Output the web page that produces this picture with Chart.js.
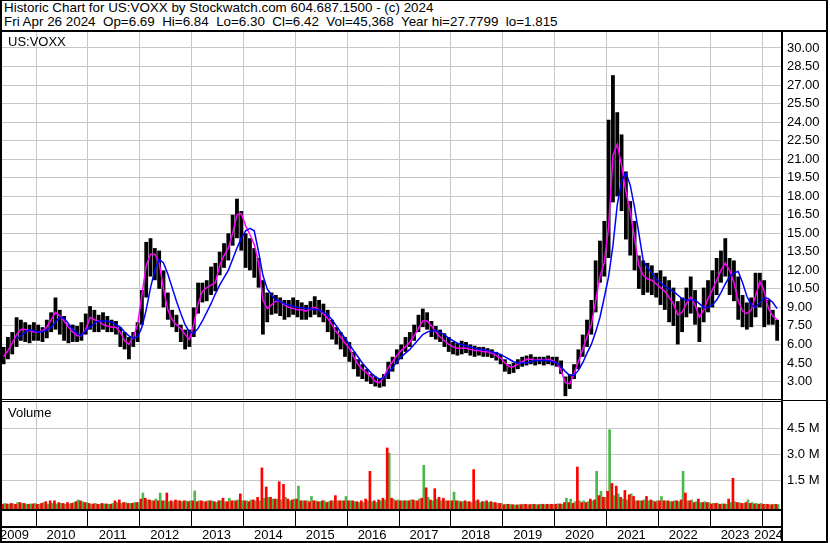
<!DOCTYPE html>
<html>
<head>
<meta charset="utf-8">
<title>US:VOXX historic chart</title>
<script src="https://cdn.jsdelivr.net/npm/chart.js@4.4.1/dist/chart.umd.min.js"></script>
<style>
  body { margin: 0; background: #fff; }
  #wrap { position: relative; width: 830px; height: 543px; overflow: hidden;
          font-family: "Liberation Sans", Arial, sans-serif; font-size: 13px; color: #000; }
  canvas { position: absolute; }
  .ln { position: absolute; background: #000; z-index: 5; }
  #head { position: absolute; left: 4px; top: 1px; line-height: 14px; white-space: pre; font-size: 13.4px; }
  .tag { position: absolute; left: 8px; line-height: 14px; z-index: 6; }
</style>
</head>
<body>
<div id="wrap">
  <div id="head">Historic Chart for US:VOXX by Stockwatch.com 604.687.1500 - (c) 2024
Fri Apr 26 2024  Op=6.69  Hi=6.84  Lo=6.30  Cl=6.42  Vol=45,368  Year hi=27.7799  lo=1.815</div>
  <canvas id="priceChart" width="826" height="367" style="left:2px;top:32px"></canvas>
  <canvas id="volChart" width="826" height="140" style="left:2px;top:402px"></canvas>
  <div class="tag" style="top:35px">US:VOXX</div>
  <div class="tag" style="top:406px">Volume</div>

  <div class="ln" style="left:0;top:0;width:828px;height:1px"></div>
  <div class="ln" style="left:0;top:0;width:2px;height:543px"></div>
  <div class="ln" style="left:826px;top:0;width:2px;height:543px"></div>
  <div class="ln" style="left:0;top:541px;width:828px;height:2px"></div>
  <div class="ln" style="left:0;top:30px;width:828px;height:2px"></div>
  <div class="ln" style="left:781px;top:32px;width:2px;height:510px"></div>
  <div class="ln" style="left:0;top:399px;width:781px;height:1px"></div>
  <div class="ln" style="left:0;top:401px;width:781px;height:1px"></div>
  <div class="ln" style="left:781px;top:400px;width:46px;height:1px"></div>
  <div class="ln" style="left:0;top:509px;width:781px;height:2px"></div>
  <div class="ln" style="left:0;top:526px;width:781px;height:2px"></div>
</div>

<script>
// monthly values, May 2009 .. Apr 2024 (one row per year)
const firstMonth = 2009 + 4 / 12;

const priceHigh = [
  5.8, 6.6, 7.0, 8.2, 8.0, 7.8, 7.6, 7.8,
  7.6, 7.4, 8.0, 8.6, 9.8, 8.8, 8.3, 7.6, 7.6, 7.5, 7.8, 8.5,
  9.1, 8.8, 8.4, 8.6, 8.3, 8.0, 7.9, 7.4, 7.0, 6.6, 7.0, 7.8,
  10.4, 14.3, 14.6, 13.8, 13.6, 12.0, 10.2, 8.8, 8.4, 7.6, 7.2, 7.2,
  9.0, 11.0, 11.0, 11.2, 12.3, 12.6, 13.5, 14.2, 15.0, 16.5, 17.8, 16.8,
  15.0, 14.6, 13.8, 13.0, 11.2, 10.2, 10.2, 10.0, 9.8, 9.6, 9.6, 9.8,
  9.6, 9.4, 9.2, 9.5, 9.9, 9.6, 9.3, 8.8, 8.0, 7.4, 7.0, 6.6,
  6.2, 5.4, 4.8, 4.4, 4.0, 3.6, 3.4, 3.2, 3.6, 4.6, 5.0, 5.6,
  6.0, 6.6, 7.0, 7.6, 8.4, 8.9, 8.6, 7.9, 7.5, 7.2, 6.9, 6.6,
  6.2, 6.1, 6.3, 6.2, 6.0, 5.9, 5.8, 5.8, 5.7, 5.6, 5.4, 5.2,
  4.8, 4.4, 4.5, 4.8, 5.0, 5.1, 5.2, 5.0, 5.0, 5.0, 5.1, 5.0,
  5.0, 4.7, 3.4, 3.6, 4.4, 5.6, 6.8, 8.0, 9.6, 12.8, 14.4, 16.0,
  24.2, 27.8, 24.8, 23.0, 20.0, 17.6, 16.0, 13.2, 12.8, 12.6, 12.4, 11.8,
  12.0, 11.5, 11.2, 10.6, 9.5, 9.8, 10.6, 11.5, 10.4, 9.0, 10.6, 11.2,
  12.0, 13.0, 13.6, 14.6, 13.0, 12.8, 11.5, 10.0, 9.4, 9.8, 11.8, 11.8,
  11.2, 9.6, 8.8, 8.0
];

const priceLow = [
  4.4, 4.8, 5.2, 5.8, 6.3, 6.2, 6.1, 6.3,
  6.3, 6.2, 6.5, 7.0, 7.2, 6.8, 6.3, 6.1, 6.2, 6.2, 6.3, 6.8,
  7.2, 7.0, 7.0, 7.2, 7.0, 7.0, 6.8, 5.8, 5.6, 4.8, 5.8, 6.2,
  7.6, 9.8, 11.5, 11.2, 10.5, 9.0, 8.0, 7.4, 7.0, 6.2, 5.6, 5.8,
  6.6, 8.5, 9.4, 9.5, 10.0, 10.3, 11.6, 12.2, 12.8, 14.0, 14.6, 13.6,
  12.2, 12.0, 11.4, 10.6, 6.8, 7.8, 8.4, 8.5, 8.3, 8.0, 8.2, 8.4,
  8.2, 8.0, 8.0, 8.2, 8.4, 8.2, 7.8, 7.0, 6.4, 6.0, 5.6, 5.0,
  4.6, 4.0, 3.4, 3.2, 3.0, 2.8, 2.6, 2.5, 2.6, 3.2, 3.8, 4.4,
  4.8, 5.4, 5.8, 6.3, 7.0, 7.4, 7.2, 6.6, 6.4, 6.2, 5.8, 5.4,
  5.2, 5.1, 5.2, 5.3, 5.1, 5.0, 5.1, 5.0, 5.0, 4.9, 4.7, 4.4,
  3.8, 3.6, 3.7, 4.0, 4.2, 4.3, 4.4, 4.3, 4.4, 4.3, 4.4, 4.3,
  4.2, 3.6, 1.815, 2.4, 3.2, 4.0, 5.0, 5.8, 6.8, 8.6, 11.0, 11.5,
  13.0, 17.5, 18.0, 16.8, 14.5, 13.2, 12.0, 10.5, 10.0, 10.2, 10.0, 9.8,
  9.2, 8.8, 7.8, 7.5, 6.0, 7.0, 8.2, 8.5, 7.6, 6.2, 7.8, 8.6,
  9.0, 10.0, 11.0, 11.5, 10.0, 9.5, 8.0, 7.4, 7.2, 7.4, 8.2, 9.0,
  7.4, 7.6, 7.6, 6.3
];

// short moving average (magenta)
const maFast = [
  5.0, 5.5, 6.1, 6.8, 7.2, 7.2, 7.1, 7.0,
  7.0, 7.1, 7.4, 8.0, 8.6, 8.3, 7.9, 7.4, 7.0, 6.7, 6.7, 7.2,
  8.2, 8.0, 7.9, 7.6, 7.5, 7.4, 7.4, 7.0, 6.3, 6.0, 6.6, 7.6,
  10.0, 12.4, 13.3, 13.3, 12.6, 10.5, 8.8, 8.0, 7.6, 7.3, 6.8, 6.4,
  7.6, 9.3, 10.3, 10.6, 10.8, 11.0, 12.4, 13.2, 13.8, 15.0, 16.5, 16.6,
  15.6, 14.9, 14.1, 12.6, 9.6, 8.9, 9.2, 9.5, 9.5, 9.2, 9.0, 8.9,
  8.8, 8.8, 8.7, 8.9, 9.0, 8.8, 8.5, 8.1, 7.6, 7.0, 6.6, 6.1,
  5.7, 5.0, 4.4, 4.0, 3.7, 3.4, 3.0, 2.9, 3.4, 4.1, 4.6, 5.1,
  5.5, 5.8, 6.2, 6.7, 7.3, 7.9, 7.9, 7.5, 7.0, 6.6, 6.3, 6.0,
  5.8, 5.7, 5.7, 5.7, 5.6, 5.5, 5.5, 5.4, 5.4, 5.3, 5.1, 4.9,
  4.5, 4.2, 4.2, 4.4, 4.6, 4.8, 4.8, 4.7, 4.8, 4.7, 4.8, 4.7,
  4.5, 3.9, 2.9, 2.8, 3.6, 4.6, 5.6, 6.6, 7.6, 9.5, 11.5, 12.6,
  15.5, 21.3, 22.2, 20.5, 18.4, 16.8, 14.6, 12.4, 11.6, 11.3, 11.2, 10.9,
  10.6, 10.3, 9.8, 9.3, 8.4, 8.6, 9.3, 9.8, 9.2, 8.2, 8.8, 9.7,
  10.4, 11.2, 12.0, 12.6, 12.0, 11.0, 9.5, 8.7, 8.5, 8.8, 9.9, 11.1,
  10.3, 8.9, 8.3, 8.0
];

// long moving average (blue)
const maSlow = [
  null, null, null, 6.4, 6.7, 7.0, 7.2, 7.1,
  7.0, 7.0, 7.2, 7.4, 7.8, 8.2, 8.1, 7.7, 7.2, 6.9, 6.7, 7.1,
  7.4, 7.7, 7.9, 7.9, 7.9, 7.8, 7.6, 7.4, 7.0, 6.7, 6.5, 6.6,
  7.4, 8.8, 10.6, 12.0, 12.9, 12.6, 11.7, 10.6, 9.5, 8.5, 7.6, 7.0,
  6.9, 7.3, 7.9, 8.6, 9.3, 10.1, 10.8, 11.4, 12.0, 12.9, 13.8, 14.6,
  15.2, 15.4, 15.2, 13.5, 11.6, 10.5, 10.0, 9.6, 9.5, 9.3, 9.2, 9.1,
  9.0, 9.0, 8.9, 8.9, 8.8, 8.8, 8.6, 8.4, 8.0, 7.5, 7.0, 6.5,
  6.0, 5.5, 5.0, 4.5, 4.1, 3.7, 3.4, 3.2, 3.3, 3.7, 4.1, 4.6,
  5.0, 5.3, 5.6, 6.0, 6.4, 6.8, 7.0, 7.1, 7.1, 7.0, 6.8, 6.5,
  6.3, 6.1, 6.0, 5.9, 5.8, 5.7, 5.6, 5.6, 5.5, 5.4, 5.3, 5.2,
  5.0, 4.8, 4.6, 4.5, 4.5, 4.5, 4.6, 4.7, 4.7, 4.7, 4.7, 4.6,
  4.5, 4.2, 3.8, 3.5, 3.5, 3.9, 4.5, 5.3, 6.0, 7.0, 8.2, 9.8,
  11.5, 14.0, 17.3, 19.2, 19.9, 18.9, 17.1, 15.0, 12.8, 12.2, 11.8, 11.3,
  11.0, 10.7, 10.5, 10.3, 10.0, 9.7, 9.6, 9.6, 9.6, 9.3, 9.0, 9.0,
  9.2, 9.6, 10.2, 10.9, 11.5, 11.8, 11.9, 11.0, 9.9, 9.2, 9.0, 9.4,
  9.8, 9.7, 9.4, 8.9
];

// volume in millions: down (red) and up (green)
const volDown = [
  .1, .12, .15, .1, .2, .15, .1, .12,
  .1, .15, .25, .3, .3, .2, .15, .2, .15, .25, .3, .2,
  .15, .12, .1, .15, .12, .1, .3, .35, .2, .15, .15, .2,
  .4, .45, .35, .3, .3, .3, .75, .3, .35, .3, .3, .25,
  .3, .25, .3, .25, .3, .25, .3, .45, .25, .3, .3, .7,
  .3, .25, .35, .5, 2.2, 1.1, .5, .4, 1.4, 1.25, .4, .35,
  .4, .3, .3, .25, .3, .25, .3, .2, .3, .6, .3, .3,
  .3, .3, .25, .3, .4, 2.0, .3, .35, .45, 3.35, .45, .3,
  .3, .3, .3, .35, .3, .45, 1.05, .35, 1.0, .5, .45, .3,
  .3, .3, .25, .3, .25, 2.1, .35, .25, .3, .25, .2, .15,
  .08, .1, .08, .06, .08, .1, .08, .1, .08, .1, .1, .1,
  .1, .12, .2, .2, .15, 2.25, .2, .2, .4, .35, .6, .5,
  .85, 1.3, 1.15, .5, .9, .65, .55, .3, .3, .55, .35, .25,
  .3, .3, .3, .25, .3, .35, .75, .3, .2, .4, .2, .2,
  .12, .15, .1, .12, .4, 1.6, .2, .15, .2, .15, .12, .1,
  .1, .1, .08, .1
];

const volUp = [
  .15, .1, .12, .2, .15, .1, .12, .15,
  .1, .2, .1, .15, .12, .15, .1, .12, .2, .35, .25, .2,
  .1, .15, .1, .12, .1, .15, .2, .15, .2, .15, .2, .2,
  .75, .35, .3, .4, .75, .3, .25, .25, .3, .25, .3, .3,
  .87, .3, .25, .3, .3, .2, .3, .25, .45, .3, .35, .3,
  .3, .35, .3, .3, .45, .5, .4, .4, .35, .5, .3, .4,
  1.15, .3, .3, .55, .3, .25, .3, .25, .3, .3, .3, .55,
  .3, .25, .2, .2, .3, .25, .2, .3, .35, 3.05, .4, .35,
  .3, .3, .35, .3, .4, 2.35, .5, .3, .4, .3, .3, .3,
  .8, .3, .25, .25, .2, .3, .2, .25, .2, .2, .15, .15,
  .1, .08, .06, .08, .1, .08, .1, .08, .1, .08, .1, .1,
  .12, .1, .45, .4, .25, .3, .3, .25, .3, 2.0, .85, .5,
  4.4, .6, .7, .4, .35, .7, .3, .3, .35, .3, .3, .3,
  .55, .3, .25, .3, .25, 2.0, .3, .35, .25, .2, .25, .2,
  .15, .15, .12, .1, .2, .25, .2, .15, .35, .2, .15, .15,
  .1, .08, .1, .08
];

const priceTicks = [3, 4.5, 6, 7.5, 9, 10.5, 12, 13.5, 15, 16.5, 18, 19.5, 21, 22.5, 24, 25.5, 27, 28.5, 30];
const volTicks = [1.5, 3.0, 4.5];
const yearTicks = [2010, 2011, 2012, 2013, 2014, 2015, 2016, 2017, 2018, 2019, 2020, 2021, 2022, 2023, 2024];
const yearLabels = ['2009', '2010', '2011', '2012', '2013', '2014', '2015', '2016',
                    '2017', '2018', '2019', '2020', '2021', '2022', '2023', '2024'];

const X_MIN = 2009.344, X_MAX = 2024.366;
const P_MIN = 1.583, P_MAX = 31.295;
const V_MIN = -0.173, V_MAX = 6.0;
const GRID = '#c6c6c6';

Chart.defaults.font.family = '"Liberation Sans", Arial, sans-serif';
Chart.defaults.font.size = 13;
Chart.defaults.color = '#000';

function monthX(i) {
    return firstMonth + (i + 0.5) / 12;
}

function points(arr) {
    return arr.map((v, i) => ({ x: monthX(i), y: v }));
}

function xScale(height, grid) {
    return {
        type: 'linear', min: X_MIN, max: X_MAX, bounds: 'data', offset: false,
        afterBuildTicks: ax => { ax.ticks = yearTicks.map(v => ({ value: v })); },
        afterFit: ax => { ax.height = height; },
        ticks: { display: false },
        grid: grid,
        border: { display: false }
    };
}

function yScale(min, max, ticks, fmt) {
    return {
        type: 'linear', position: 'right', min: min, max: max, bounds: 'data', beginAtZero: false,
        afterBuildTicks: ax => { ax.ticks = ticks.map(v => ({ value: v })); },
        afterFit: ax => { ax.width = 47; ax.paddingTop = 0; ax.paddingBottom = 0; },
        ticks: { callback: fmt, padding: 6, autoSkip: false, color: '#000' },
        grid: { color: GRID, drawTicks: false },
        border: { display: false }
    };
}

// year names sit between the year dividers
const yearLabelPlugin = {
    id: 'yearLabels',
    afterDraw(chart) {
        const x = chart.scales.x;
        const ctx = chart.ctx;
        ctx.save();
        ctx.font = '13px "Liberation Sans", Arial, sans-serif';
        ctx.fillStyle = '#000';
        ctx.textBaseline = 'middle';
        yearLabels.forEach(label => {
            const w = ctx.measureText(label).width;
            let left = x.getPixelForValue(+label + 0.5) - 1 - w / 2;
            left = Math.max(x.left - 2, Math.min(left, x.right + 2 - w));
            ctx.fillText(label, left, chart.chartArea.bottom + 26);
        });
        ctx.restore();
    }
};

const common = {
    responsive: false,
    animation: false,
    devicePixelRatio: 1,
    layout: { padding: 0 },
    plugins: { legend: { display: false }, tooltip: { enabled: false } }
};

new Chart(document.getElementById('priceChart'), {
    type: 'bar',
    data: {
        datasets: [
            { type: 'line', label: 'Slow MA', data: points(maSlow), borderColor: '#0000ff',
              borderWidth: 1.5, pointRadius: 0, tension: 0, order: 1 },
            { type: 'line', label: 'Fast MA', data: points(maFast), borderColor: '#ff00ff',
              borderWidth: 1.5, pointRadius: 0, tension: 0, order: 2 },
            { type: 'bar', label: 'Range', order: 3, backgroundColor: '#000',
              barPercentage: 0.88, categoryPercentage: 1,
              data: priceHigh.map((h, i) => ({ x: monthX(i), y: [priceLow[i], h] })) }
        ]
    },
    options: Object.assign({}, common, {
        scales: {
            x: xScale(0, { color: GRID, drawTicks: false, offset: false }),
            y: yScale(P_MIN, P_MAX, priceTicks, v => v.toFixed(2))
        }
    })
});

new Chart(document.getElementById('volChart'), {
    type: 'bar',
    data: {
        datasets: [
            { label: 'Down', data: points(volDown), backgroundColor: '#ff0000', barThickness: 2, base: V_MIN },
            { label: 'Up', data: points(volUp), backgroundColor: '#4cb84c', barThickness: 2, base: V_MIN }
        ]
    },
    options: Object.assign({}, common, {
        scales: {
            x: xScale(33, { color: GRID, offset: false, drawTicks: true, tickLength: 17,
                            tickColor: '#000', tickWidth: 1 }),
            y: yScale(V_MIN, V_MAX, volTicks, v => v.toFixed(1) + ' M')
        }
    }),
    plugins: [yearLabelPlugin]
});
</script>
</body>
</html>
